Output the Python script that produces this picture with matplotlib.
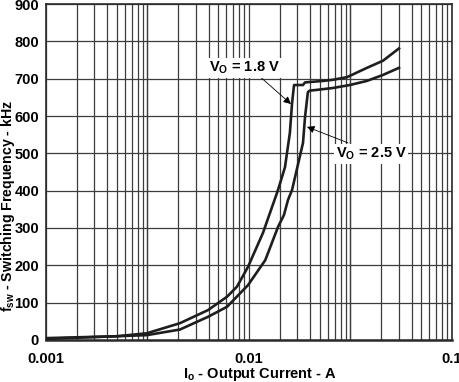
import numpy as np
import matplotlib
matplotlib.use("Agg")
import matplotlib.pyplot as plt

plt.rcParams["font.family"] = ["Liberation Sans", "DejaVu Sans"]
plt.rcParams["font.weight"] = "bold"
plt.rcParams["axes.labelweight"] = "bold"
plt.rcParams["mathtext.fontset"] = "custom"
plt.rcParams["mathtext.rm"] = "Liberation Sans:bold"
plt.rcParams["mathtext.bf"] = "Liberation Sans:bold"
plt.rcParams["mathtext.it"] = "Liberation Sans:bold"

# V_O = 1.8 V curve (output current in A, switching frequency in kHz)
i_18 = [0.001, 0.00224, 0.00314, 0.00457, 0.00628, 0.0078, 0.00873, 0.00989,
        0.01172, 0.0139, 0.01504, 0.0159, 0.0163, 0.01667, 0.01845, 0.01888,
        0.0232, 0.0259, 0.0304, 0.0381, 0.0457, 0.0548]
f_18 = [5, 10, 18, 45, 80, 116, 143, 196,
        287, 402, 463, 555, 635, 683, 683, 690,
        694, 697, 704, 729, 748, 781]

# V_O = 2.5 V curve
i_25 = [0.001, 0.00314, 0.00457, 0.00628, 0.0078, 0.00989, 0.01203, 0.0139,
        0.01487, 0.01556, 0.0163, 0.01845, 0.01888, 0.0195, 0.0199, 0.0216,
        0.0259, 0.0314, 0.0381, 0.0457, 0.0548]
f_25 = [3, 13, 28, 62, 89, 147, 214, 303,
        335, 375, 402, 528, 597, 664, 668, 670,
        675, 683, 694, 710, 729]

x_ticks = [0.001, 0.01, 0.1]
x_ticklabels = ["0.001", "0.01", "0.1"]
y_ticks = [0, 100, 200, 300, 400, 500, 600, 700, 800, 900]

fig = plt.figure(figsize=(4.6, 3.82), dpi=100)
ax = fig.add_axes([0.1, 0.11, 0.8826, 0.8795])

grid_c = "#3c3c3c"
ax.plot(i_18, f_18, color="#1e1e1e", lw=1.9, zorder=3)
ax.plot(i_25, f_25, color="#1e1e1e", lw=1.9, zorder=3)

ax.set_xscale("log")
ax.set_xlim(0.001, 0.1)
ax.set_ylim(0, 900)

# the original grid packs four log decades into the two labelled ones
grid_x = [0.001 * 10 ** (d / 2) * np.sqrt(k) for d in range(4) for k in range(1, 11)]
ax.set_xticks(grid_x, minor=True)
ax.set_xticks(x_ticks)
ax.set_xticklabels(x_ticklabels)
ax.xaxis.set_minor_formatter(plt.NullFormatter())
ax.set_yticks(y_ticks)
ax.grid(True, which="both", color=grid_c, lw=0.9)
ax.tick_params(which="both", length=0, labelsize=10.5)
ax.tick_params(axis="x", pad=9)
ax.tick_params(axis="y", pad=5)
for s in ax.spines.values():
    s.set_color("#2a2a2a")
    s.set_linewidth(1.2)
ax.spines["bottom"].set_linewidth(1.8)

ax.set_xlabel(r"$\mathbf{I_o}$ - Output Current - A", fontsize=10.5)
ax.set_ylabel(r"$\mathbf{f_{sw}}$ - Switching Frequency - kHz", fontsize=10.2)
ax.xaxis.set_label_coords(0.527, -0.077)
ax.yaxis.set_label_coords(-0.072, 0.40)

box = dict(boxstyle="square,pad=0.1", fc="white", ec="none")
arrow = dict(arrowstyle="-|>", color="black", lw=0.6, mutation_scale=11,
             shrinkA=0, shrinkB=0)
ax.annotate("", xy=(0.0161, 632), xytext=(0.01108, 710), arrowprops=arrow, zorder=4)
ax.annotate("", xy=(0.0193, 571), xytext=(0.03074, 528), arrowprops=arrow, zorder=4)
ax.text(0.00955, 729, r"$\mathbf{V_O}$ = 1.8 V", ha="center", va="center",
        fontsize=10.5, bbox=box, zorder=5)
ax.text(0.0399, 498, r"$\mathbf{V_O}$ = 2.5 V", ha="center", va="center",
        fontsize=10.5, bbox=box, zorder=5)

fig.savefig("out.png", dpi=100, facecolor="white")
